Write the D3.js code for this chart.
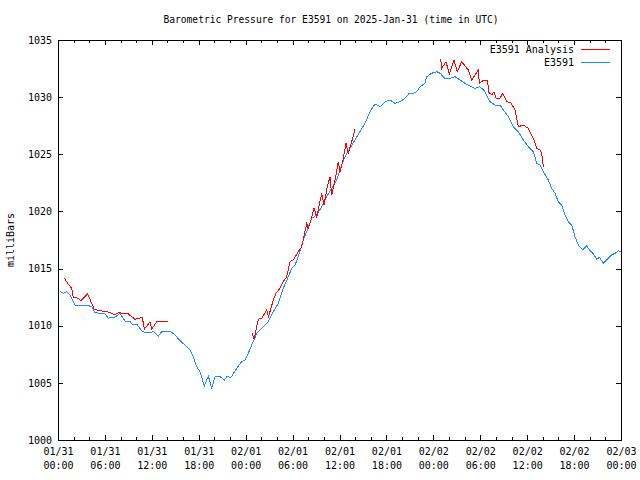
<!DOCTYPE html>
<html><head><meta charset="utf-8">
<script src="https://cdn.jsdelivr.net/npm/d3@7"></script>
<style>
body{margin:0;background:#fff}
text{font-family:"DejaVu Sans Mono","Liberation Mono",monospace;font-size:10px;fill:#000}
</style>
</head><body>
<svg id="chart" width="640" height="480"></svg>
<script>
const titleText = "Barometric Pressure for E3591 on 2025-Jan-31 (time in UTC)";
const yLabel = "milliBars";
const startTime = "2025-01-31T00:00:00Z";
const endTime = "2025-02-03T00:00:00Z";
const yTicks = [1000, 1005, 1010, 1015, 1020, 1025, 1030, 1035];
const seriesNames = ["E3591 Analysis", "E3591"];
const seriesColors = ["#ff0000", "#1e8cff"];

// E3591 observations: hours since start, pressure (mb)
const obsHours = [0.26,0.68,1.11,1.53,2.17,2.60,3.03,3.67,4.31,4.73,5.37,6.01,6.43,6.87,7.29,7.93,8.57,9.21,9.63,10.07,
  10.78,11.55,12.19,12.83,13.26,14.32,14.96,15.60,16.24,16.88,17.30,17.74,18.16,18.71,19.22,19.66,20.08,20.72,21.27,21.58,
  22.13,22.85,23.49,23.92,24.34,24.77,25.19,25.41,26.90,27.53,28.17,28.81,29.45,29.89,30.31,30.73,31.37,31.81,32.45,33.09,
  33.73,34.37,35.00,35.64,36.28,36.71,37.34,37.98,38.62,39.26,39.90,40.54,41.18,41.82,42.46,43.10,43.74,44.38,44.93,45.44,
  45.88,46.30,46.94,47.15,47.79,48.43,48.85,49.49,50.13,50.77,51.41,52.05,52.69,53.33,53.97,54.61,55.25,55.89,56.53,56.95,
  57.59,58.23,58.87,59.51,60.15,60.79,61.22,61.64,62.07,62.71,63.14,63.56,63.98,64.42,64.84,65.26,65.70,66.12,66.54,67.10,
  67.62,68.04,68.46,68.89,69.23,69.74,70.17,70.81,71.24,71.66,72.0];
const obsValues = [1012.98,1012.84,1012.98,1012.69,1011.81,1011.73,1011.81,1011.81,1011.66,1011.14,1011.09,1011.03,1010.65,1010.74,1010.74,1011.09,1010.41,1010.35,1010.06,1010.15,
  1009.48,1009.39,1009.48,1009.10,1009.48,1009.54,1009.19,1008.69,1008.31,1007.88,1007.29,1006.41,1005.98,1004.73,1005.60,1004.52,1005.54,1005.54,1005.25,1005.54,
  1005.49,1006.27,1006.85,1007.00,1007.59,1008.31,1008.90,1009.34,1010.35,1011.23,1011.96,1013.27,1014.29,1015.02,1015.31,1016.04,1017.50,1018.23,1019.40,1019.69,
  1020.41,1021.29,1022.02,1022.75,1024.06,1024.79,1025.52,1026.25,1026.98,1027.71,1028.73,1029.40,1029.16,1029.60,1029.75,1029.46,1029.60,1029.90,1030.34,1030.34,
  1030.48,1030.91,1031.21,1031.79,1032.09,1032.23,1032.09,1031.65,1031.65,1031.79,1031.50,1031.21,1030.98,1030.77,1030.91,1030.48,1029.60,1029.31,1029.31,1028.88,
  1028.29,1027.41,1026.98,1026.25,1025.66,1025.23,1024.21,1024.06,1023.48,1022.75,1022.02,1021.59,1020.85,1020.56,1019.69,1019.10,1018.81,1017.79,1017.06,1016.63,
  1016.98,1016.56,1016.28,1015.81,1015.99,1015.46,1015.75,1016.19,1016.34,1016.56,1016.48];

// E3591 Analysis: hours since start, pressure (mb); null marks a gap
const anaHours = [0.81,1.24,1.75,1.96,2.60,2.94,3.80,4.22,4.64,5.37,6.23,6.94,7.20,7.71,8.35,8.99,9.85,10.78,11.04,11.77,11.98,12.62,14.03,
  null,
  24.85,25.07,25.32,25.62,26.05,26.69,26.90,27.11,27.53,27.88,28.39,28.81,29.25,29.67,30.09,30.73,31.17,31.81,32.01,32.36,32.74,33.09,33.73,34.02,34.44,34.79,35.00,35.43,35.85,36.07,36.49,36.83,37.13,37.56,37.98,
  null,
  48.94,49.07,49.62,50.04,50.64,51.07,51.63,52.47,52.91,53.75,53.88,54.48,54.96,55.03,55.47,55.76,56.02,56.53,56.87,57.38,57.90,58.45,58.87,59.51,60.15,60.79,61.22,61.64,61.86,62.07];
const anaValues = [1014.15,1013.71,1013.27,1012.49,1012.40,1012.19,1012.78,1012.10,1011.44,1011.31,1011.23,1011.09,1010.94,1011.14,1011.09,1011.03,1010.56,1010.74,1009.69,1010.35,1009.69,1010.35,1010.35,
  null,
  1009.34,1008.81,1009.63,1010.56,1010.65,1011.38,1010.79,1011.23,1012.25,1012.84,1013.27,1013.85,1014.29,1015.60,1015.75,1016.48,1016.91,1018.96,1018.52,1019.25,1020.27,1019.54,1021.59,1020.56,1022.16,1023.04,1021.44,1022.75,1024.35,1023.48,1024.65,1025.96,1025.09,1026.10,1027.19,
  null,
  1033.31,1032.52,1033.10,1032.03,1033.25,1032.23,1033.10,1032.38,1031.50,1032.38,1031.21,1031.50,1031.50,1030.48,1030.19,1030.48,1029.90,1029.90,1030.34,1029.60,1029.51,1028.88,1027.41,1027.56,1027.27,1026.40,1025.52,1025.38,1025.09,1023.89];

const svg = d3.select("#chart");
const L = 58, R = 621, T = 40, B = 440;
const t0 = new Date(startTime), t1 = new Date(endTime);
const x = d3.scaleUtc().domain([t0, t1]).range([L, R]);
const y = d3.scaleLinear().domain([1000, 1035]).range([B, T]);
const toDate = h => new Date(t0.getTime() + h * 3600000);

const obs = obsHours.map((h, i) => ({t: toDate(h), v: obsValues[i]}));
const ana = anaHours.map((h, i) => ({t: h == null ? null : toDate(h), v: anaValues[i]}));

// Title
svg.append("text").attr("x", 331).attr("y", 23).attr("text-anchor", "middle")
  .style("font-size", "9.6px").text(titleText);
// Y label
svg.append("text").attr("transform", "translate(14,240) rotate(-90)").attr("text-anchor", "middle").text(yLabel);

const g = svg.append("g").attr("shape-rendering", "crispEdges");

const majorX = d3.utcHour.every(6), minorX = d3.utcHour.every(2);
const fmtD = d3.utcFormat("%m/%d"), fmtH = d3.utcFormat("%H:%M");

const xb = g.append("g").attr("transform", `translate(0,${B})`)
  .call(d3.axisBottom(x).ticks(minorX).tickSize(-3).tickFormat(""));
const xbM = g.append("g").attr("transform", `translate(0,${B})`)
  .call(d3.axisBottom(x).ticks(majorX).tickSize(-5).tickFormat(fmtD));
const xt = g.append("g").attr("transform", `translate(0,${T})`)
  .call(d3.axisTop(x).ticks(minorX).tickSize(-3).tickFormat(""));
const xtM = g.append("g").attr("transform", `translate(0,${T})`)
  .call(d3.axisTop(x).ticks(majorX).tickSize(-5).tickFormat(""));
const yl = g.append("g").attr("transform", `translate(${L},0)`)
  .call(d3.axisLeft(y).tickValues(yTicks).tickSize(-5).tickPadding(6).tickFormat(d3.format("d")));
const yr = g.append("g").attr("transform", `translate(${R},0)`)
  .call(d3.axisRight(y).tickValues(yTicks).tickSize(-5).tickFormat(""));

[xb, xbM, xt, xtM, yl, yr].forEach(a => {
  a.selectAll(".domain").remove();
  a.selectAll("line").attr("stroke", "#000");
  a.selectAll("text").attr("font-family", null).attr("font-size", null).attr("fill", "#000");
});
xbM.selectAll(".tick").each(function(d) {
  const tk = d3.select(this);
  tk.select("text").attr("y", 8).attr("dy", "0.71em");
  tk.append("text").attr("y", 22).attr("dy", "0.71em").attr("text-anchor", "middle").text(fmtH(d));
});

g.append("rect").attr("x", L).attr("y", T).attr("width", R - L).attr("height", B - T)
  .attr("fill", "none").attr("stroke", "#000");

const line = d3.line().defined(d => d.v != null && d.t != null).x(d => x(d.t)).y(d => y(d.v));
svg.append("path").datum(obs).attr("d", line).attr("fill", "none").attr("stroke", seriesColors[1])
  .attr("stroke-width", 1).attr("shape-rendering", "crispEdges");
svg.append("path").datum(ana).attr("d", line).attr("fill", "none").attr("stroke", seriesColors[0])
  .attr("stroke-width", 1).attr("shape-rendering", "crispEdges");

const leg = svg.append("g");
seriesNames.forEach((n, i) => {
  const yy = 49 + i * 13;
  leg.append("text").attr("x", 574).attr("y", yy).attr("dy", "0.35em").attr("text-anchor", "end").text(n);
  leg.append("line").attr("x1", 581).attr("x2", 610).attr("y1", yy + 0.5).attr("y2", yy + 0.5)
    .attr("stroke", seriesColors[i]).attr("shape-rendering", "crispEdges");
});
</script>
</body></html>
